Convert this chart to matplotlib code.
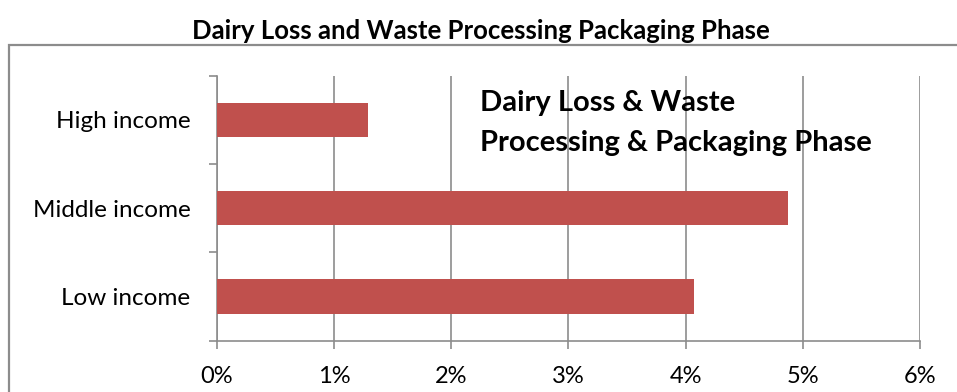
import matplotlib
matplotlib.use("Agg")
import matplotlib.pyplot as plt
from matplotlib.patches import Rectangle
from matplotlib.ticker import FuncFormatter

plt.rcParams['font.family'] = ['Lato', 'DejaVu Sans']

# income groups, bottom to top
categories = ['Low income', 'Middle income', 'High income']
loss_pct = [4.07, 4.87, 1.29]
x_ticks = [0, 1, 2, 3, 4, 5, 6]

bar_color = '#C0504D'
grid_color = '#8C8C8C'

fig = plt.figure(figsize=(9.57, 3.92), dpi=100)
ax = fig.add_axes([0.2264, 0.1309, 0.7349, 0.676])

pos = range(len(categories))
ax.barh(pos, loss_pct, height=0.39, color=bar_color, zorder=3)

ax.set_xlim(0, 6)
ax.set_ylim(-0.5, len(categories) - 0.5)
ax.set_xticks(x_ticks)
ax.xaxis.set_major_formatter(FuncFormatter(lambda v, p: f'{v:.0f}%'))
ax.tick_params(axis='x', length=6, width=1.2, color=grid_color, pad=12,
               labelsize=17, direction='out')

# category labels at bar centres, tick marks on the boundaries
ax.set_yticks(list(pos))
ax.set_yticklabels(categories)
ax.tick_params(axis='y', which='major', length=0, pad=19, labelsize=17.5)
ax.set_yticks([-0.5, 0.5, 1.5, 2.5], minor=True)
ax.tick_params(axis='y', which='minor', length=6, width=1.2, color=grid_color)

ax.grid(axis='x', color=grid_color, linewidth=1.2, zorder=0)
for side in ('top', 'right'):
    ax.spines[side].set_visible(False)
for side in ('left', 'bottom'):
    ax.spines[side].set_color(grid_color)
    ax.spines[side].set_linewidth(1.2)

ax.text(0.375, 0.822, 'Dairy Loss & Waste\nProcessing & Packaging Phase',
        transform=ax.transAxes, ha='left', va='center', fontsize=21,
        fontweight='bold', linespacing=1.68, zorder=4)

fig.text(0.502, 0.922, 'Dairy Loss and Waste Processing Packaging Phase',
         ha='center', va='center', fontsize=18.5, fontweight='bold')

# chart area border, running off the right and bottom edges
fig.patches.append(Rectangle((0.0094, -0.05), 1.1, 0.936,
                             transform=fig.transFigure, fill=False,
                             edgecolor='#8C8C8C', linewidth=1.6))

fig.savefig('out.png', dpi=100, facecolor='white')
